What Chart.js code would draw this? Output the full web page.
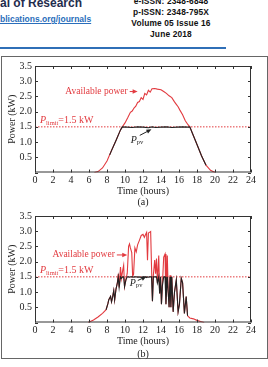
<!DOCTYPE html>
<html>
<head>
<meta charset="utf-8">
<script src="https://cdn.jsdelivr.net/npm/chart.js@4.4.0/dist/chart.umd.min.js"></script>
<style>
  body { margin: 0; width: 268px; height: 367px; overflow: hidden; background: #fff; position: relative; font-family: "Liberation Sans", Arial, sans-serif; }
  .abs { position: absolute; white-space: nowrap; }
  #jt { left: 0; top: -3px; font-size: 12px; line-height: 12px; font-weight: bold; color: #1f2d4d; }
  #url { left: 0; top: 15px; font-size: 8.5px; line-height: 8.5px; font-weight: bold; color: #2a6ebb; text-decoration: underline; }
  #issn { left: 101px; width: 140px; top: -4.4px; text-align: center; font-size: 8.4px; line-height: 11.2px; font-weight: bold; color: #111; letter-spacing: 0.15px; }
  #rule { left: 0; top: 46.5px; width: 226px; height: 2.5px; background: #2f6fb7; }
  #frame { left: 1px; top: 56px; width: 265px; height: 301px; border: 1px solid #666; }
  .cap { font-family: "Liberation Serif", serif; font-size: 10px; line-height: 12px; color: #222; width: 40px; text-align: center; left: 123px; }
  canvas { position: absolute; left: 0; }
</style>
</head>
<body>
<div class="abs" id="jt">al of Research</div>
<div class="abs" id="url">blications.org/journals</div>
<div class="abs" id="issn">e-ISSN: 2348-6848<br>p-ISSN: 2348-795X<br>Volume 05 Issue 16<br>June 2018</div>
<div class="abs" id="rule"></div>
<div class="abs" id="frame"></div>
<canvas id="chartA" width="268" height="150" style="top:57px"></canvas>
<canvas id="chartB" width="268" height="150" style="top:207px"></canvas>
<div class="abs cap" style="top:196px">(a)</div>
<div class="abs cap" style="top:348px">(b)</div>

<script>
// (a) clear day
const hoursA = [6.6, 7.0, 7.5, 8.0, 8.5, 9.0, 9.5, 9.7, 10.0, 10.3, 10.6, 10.8, 11.0, 11.2, 11.4, 11.6, 11.8, 12.0, 12.2, 12.4,
                12.6, 12.8, 13.0, 13.3, 13.6, 14.0, 14.3, 14.6, 14.9, 15.2, 15.5, 15.7, 15.9, 16.1, 16.4, 16.7, 17.0, 17.2, 17.5, 18.0,
                18.5, 19.0, 19.5, 20.0];
const availA = [0, 0.03, 0.15, 0.38, 0.72, 1.05, 1.4, 1.5, 1.63, 1.8, 1.98, 2.02, 2.12, 2.18, 2.3, 2.33, 2.46, 2.4, 2.6, 2.55,
                2.7, 2.64, 2.75, 2.76, 2.74, 2.72, 2.66, 2.6, 2.52, 2.46, 2.32, 2.24, 2.16, 2.05, 1.9, 1.7, 1.57, 1.5, 1.28, 0.92,
                0.55, 0.24, 0.07, 0];
const pvHoursA = [8.3, 8.5, 9.0, 9.5, 9.7, 10.2, 10.8, 11.4, 12.0, 12.6, 13.0, 13.4, 14.0, 14.6, 15.2, 15.8, 16.4, 17.0, 17.2, 17.5, 18.0, 18.5, 19.0];
const pvA = [0.58, 0.72, 1.05, 1.4, 1.5, 1.49, 1.48, 1.5, 1.49, 1.47, 1.5, 1.48, 1.49, 1.5, 1.48, 1.49, 1.5, 1.49, 1.5, 1.28, 0.92, 0.55, 0.24];

// (b) cloudy day
const hoursB = [5.9, 6.5, 7.0, 7.5, 7.9, 8.1, 8.2, 8.4, 8.5, 8.6, 8.75, 8.85, 9.0, 9.15, 9.25, 9.35, 9.5, 9.6, 9.75, 9.85,
                9.95, 10.1, 10.25, 10.4, 10.5, 10.6, 10.75, 10.85, 10.95, 11.1, 11.25, 11.4, 11.6, 11.8, 12.0, 12.15, 12.3, 12.4, 12.5, 12.6,
                12.75, 12.85, 12.95, 13.05, 13.15, 13.3, 13.4, 13.5, 13.6, 13.75, 13.85, 13.95, 14.05, 14.15, 14.3, 14.45, 14.55, 14.7, 14.8, 14.9,
                15.0, 15.1, 15.2, 15.35, 15.5, 15.7, 15.9, 16.05, 16.25, 16.4, 16.6, 16.8, 16.95, 17.2, 17.6, 18.0, 18.4, 18.8];
const availB = [0, 0.08, 0.18, 0.3, 0.42, 0.62, 0.75, 0.86, 0.68, 0.8, 1.05, 0.74, 1.1, 1.3, 1.6, 1.15, 1.82, 1.45, 1.72, 1.88,
                1.18, 1.4, 1.62, 2.5, 2.58, 2.45, 2.3, 1.52, 1.58, 2.45, 2.32, 2.55, 2.7, 2.86, 2.9, 2.8, 2.9, 2.96, 2.05, 2.94,
                2.97, 2.99, 1.8, 0.7, 1.55, 2.05, 1.6, 2.1, 1.3, 2.2, 0.95, 1.5, 0.6, 1.2, 2.15, 2.25, 0.6, 2.2, 1.0, 0.5,
                1.55, 0.5, 1.5, 0.35, 1.0, 1.4, 0.35, 0.6, 1.45, 1.3, 0.3, 0.85, 0.22, 0.15, 0.12, 0.07, 0.03, 0];
const pvB = [null, null, null, null, 0.42, 0.62, 0.75, 0.86, 0.68, 0.8, 1.05, 0.74, 1.1, 1.3, 1.5, 1.15, 1.5, 1.45, 1.5, 1.5,
             1.18, 1.4, 1.5, 1.5, 1.49, 1.5, 1.5, 1.5, 1.49, 1.5, 1.5, 1.49, 1.5, 1.48, 1.5, 1.49, 1.5, 1.48, 1.5, 1.49,
             1.5, 1.5, 1.5, 0.7, 1.5, 1.5, 1.5, 1.5, 1.3, 1.5, 0.95, 1.5, 0.6, 1.2, 1.5, 1.5, 0.6, 1.5, 1.0, 0.5,
             1.5, 0.5, 1.5, 0.35, 1.0, 1.4, 0.35, 0.6, 1.45, 1.3, 0.3, 0.85, 0.22, null, null, null, null, null];

const limitHours = [0, 24];
const limitValue = 1.5;

const RED = '#e23a3f';
const DARK = '#222';
const SERIF = '"Liberation Serif", "Times New Roman", serif';

function pts(xs, ys) {
  return xs.map((x, i) => ({ x: x, y: ys[i] }));
}

function arrow(ctx, x1, y1, x2, y2, color) {
  const a = Math.atan2(y2 - y1, x2 - x1);
  ctx.strokeStyle = color;
  ctx.fillStyle = color;
  ctx.lineWidth = 1;
  ctx.beginPath();
  ctx.moveTo(x1, y1);
  ctx.lineTo(x2 - 3 * Math.cos(a), y2 - 3 * Math.sin(a));
  ctx.stroke();
  ctx.beginPath();
  ctx.moveTo(x2, y2);
  ctx.lineTo(x2 - 5 * Math.cos(a) + 2.2 * Math.sin(a), y2 - 5 * Math.sin(a) - 2.2 * Math.cos(a));
  ctx.lineTo(x2 - 5 * Math.cos(a) - 2.2 * Math.sin(a), y2 - 5 * Math.sin(a) + 2.2 * Math.cos(a));
  ctx.closePath();
  ctx.fill();
}

// P with subscript, then rest of the text
function subText(ctx, x, y, sub, rest, color) {
  ctx.fillStyle = color;
  ctx.textBaseline = 'middle';
  ctx.textAlign = 'left';
  ctx.font = 'italic 10px ' + SERIF;
  ctx.fillText('P', x, y);
  x += ctx.measureText('P').width;
  ctx.font = '6.5px ' + SERIF;
  ctx.fillText(sub, x, y + 2.5);
  x += ctx.measureText(sub).width;
  if (rest) {
    ctx.font = '10px ' + SERIF;
    ctx.fillText(rest, x, y);
  }
}

function decorations(ann) {
  return {
    id: 'decor',
    afterDatasetsDraw(chart) {
      const ctx = chart.ctx;
      const a = chart.chartArea;
      const sx = chart.scales.x, sy = chart.scales.y;
      ctx.save();
      // box and inward ticks
      ctx.strokeStyle = '#333';
      ctx.lineWidth = 1;
      ctx.strokeRect(a.left + 0.5, a.top + 0.5, a.right - a.left - 1, a.bottom - a.top - 1);
      ctx.beginPath();
      sx.ticks.forEach(t => {
        const px = Math.round(sx.getPixelForValue(t.value)) + 0.5;
        ctx.moveTo(px, a.bottom); ctx.lineTo(px, a.bottom - 3);
        ctx.moveTo(px, a.top); ctx.lineTo(px, a.top + 3);
      });
      sy.ticks.forEach(t => {
        const py = Math.round(sy.getPixelForValue(t.value)) + 0.5;
        ctx.moveTo(a.left, py); ctx.lineTo(a.left + 3, py);
        ctx.moveTo(a.right, py); ctx.lineTo(a.right - 3, py);
      });
      ctx.stroke();

      // "Available power" with arrow
      const ax = sx.getPixelForValue(ann.avail.x), ay = sy.getPixelForValue(ann.avail.y);
      ctx.font = '9.5px ' + SERIF;
      ctx.fillStyle = RED;
      ctx.textAlign = 'right';
      ctx.textBaseline = 'middle';
      ctx.fillText('Available power', ax, ay);
      arrow(ctx, ax + 2, ay, sx.getPixelForValue(ann.avail.ax), ay, RED);

      // P_limit label
      subText(ctx, sx.getPixelForValue(ann.limit.x), sy.getPixelForValue(ann.limit.y), 'limit', '=1.5 kW', RED);

      // P_pv label with arrow
      subText(ctx, sx.getPixelForValue(ann.pv.x), sy.getPixelForValue(ann.pv.y), 'pv', '', DARK);
      arrow(ctx, sx.getPixelForValue(ann.pv.x1), sy.getPixelForValue(ann.pv.y1),
                 sx.getPixelForValue(ann.pv.x2), sy.getPixelForValue(ann.pv.y2), DARK);
      ctx.restore();
    }
  };
}

function makeChart(id, hours, avail, pvHours, pv, ann) {
  const ctx = document.getElementById(id).getContext('2d');
  return new Chart(ctx, {
    type: 'line',
    data: {
      datasets: [
        { data: pts(pvHours, pv), borderColor: DARK, borderWidth: 1.1, pointRadius: 0, order: 0, spanGaps: false },
        { data: pts(hours, avail), borderColor: RED, borderWidth: 1.1, pointRadius: 0, order: 1 },
        { data: pts(limitHours, limitHours.map(() => limitValue)), borderColor: RED, borderWidth: 1,
          borderDash: [1.5, 1.5], pointRadius: 0, order: 2 }
      ]
    },
    options: {
      responsive: false,
      animation: false,
      layout: { padding: { top: 8, right: 17, left: 0, bottom: 0 } },
      plugins: { legend: { display: false }, tooltip: { enabled: false } },
      scales: {
        x: {
          type: 'linear', min: 0, max: 24,
          afterFit: s => { s.height = 34.5; },
          grid: { display: false, drawTicks: false },
          border: { display: false },
          ticks: { stepSize: 2, padding: 2, autoSkip: false, maxRotation: 0, color: DARK, font: { family: SERIF, size: 10 } },
          title: { display: true, text: 'Time (hours)', color: DARK, font: { family: SERIF, size: 10 }, padding: { top: 0, bottom: 10 } }
        },
        y: {
          min: 0, max: 3.5,
          afterFit: s => { s.width = 35; },
          grid: { display: false, drawTicks: false },
          border: { display: false },
          ticks: { stepSize: 0.5, padding: 3, color: DARK, font: { family: SERIF, size: 10 },
                   callback: v => v === 0 ? '' : v.toFixed(1) },
          title: { display: true, text: 'Power (kW)', color: DARK, font: { family: SERIF, size: 10 }, padding: { top: 6.5, bottom: 0 } }
        }
      }
    },
    plugins: [decorations(ann)]
  });
}

makeChart('chartA', hoursA, availA, pvHoursA, pvA, {
  avail: { x: 10.3, y: 2.66, ax: 11.4 },
  limit: { x: 0.55, y: 1.71 },
  pv: { x: 10.64, y: 1.06, x1: 11.64, y1: 1.22, x2: 12.94, y2: 1.42 }
});
makeChart('chartB', hoursB, availB, hoursB, pvB, {
  avail: { x: 8.87, y: 2.22, ax: 10.25 },
  limit: { x: 0.55, y: 1.71 },
  pv: { x: 10.53, y: 1.29, x1: 11.42, y1: 1.38, x2: 12.38, y2: 1.51 }
});
</script>
</body>
</html>
